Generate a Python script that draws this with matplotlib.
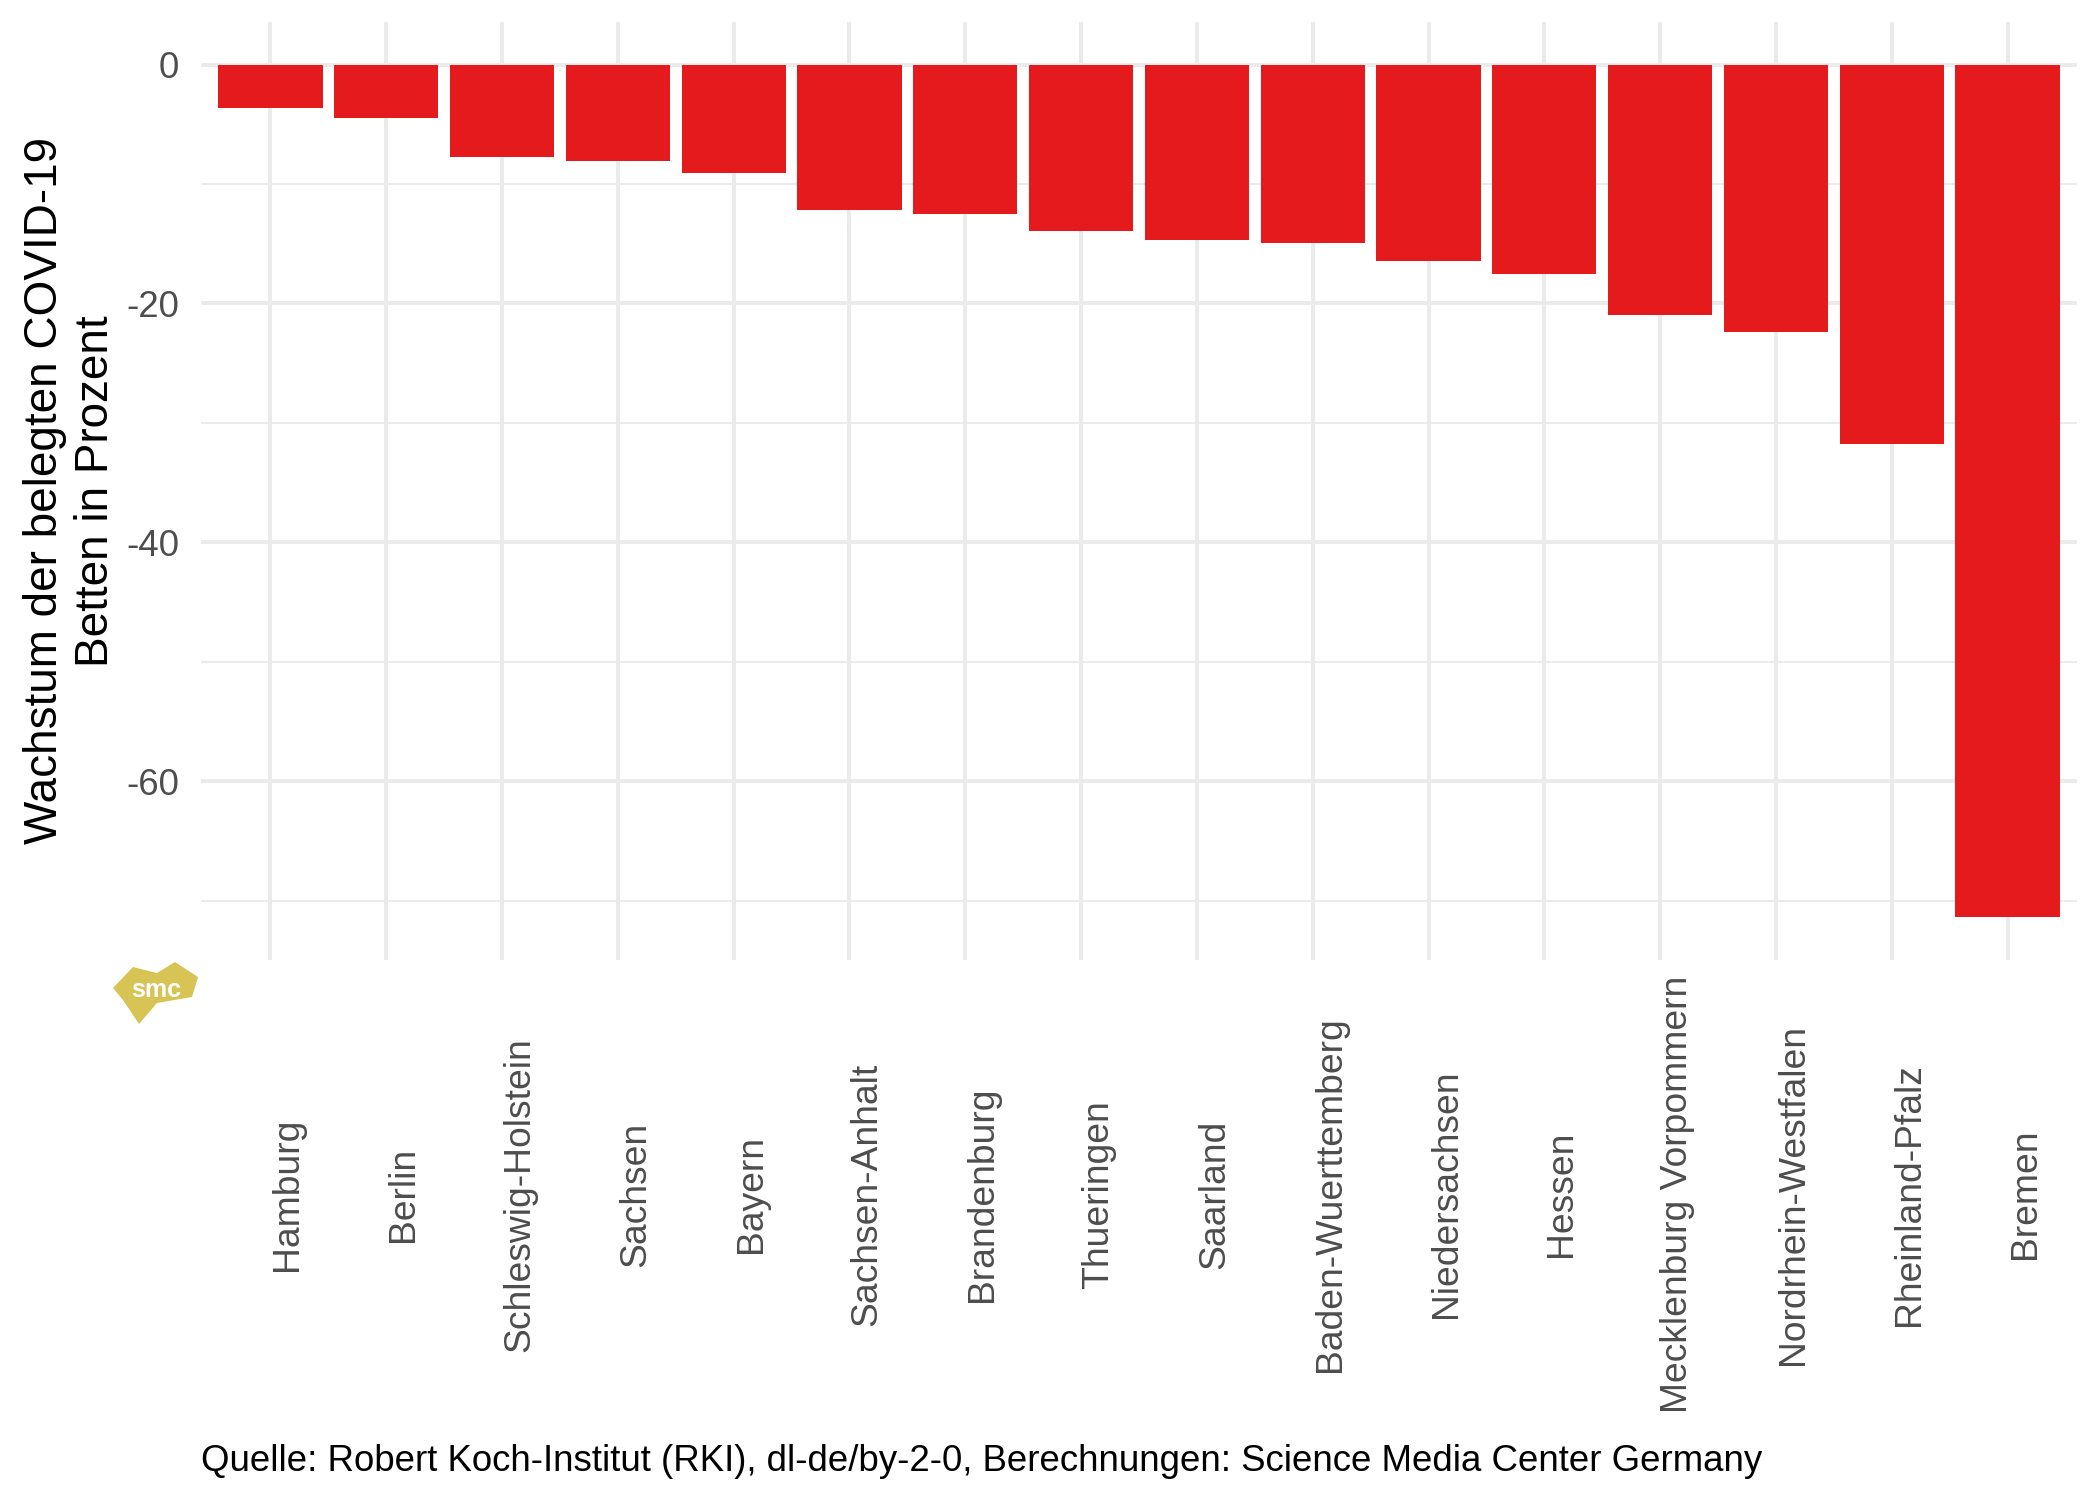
import numpy as np
import matplotlib.pyplot as plt
from matplotlib.patches import Polygon

plt.rcParams['font.family'] = ['Liberation Sans', 'DejaVu Sans']

# Daten: Wachstum der belegten COVID-19-Betten je Bundesland (Prozent)
laender = ["Hamburg", "Berlin", "Schleswig-Holstein", "Sachsen", "Bayern",
           "Sachsen-Anhalt", "Brandenburg", "Thueringen", "Saarland",
           "Baden-Wuerttemberg", "Niedersachsen", "Hessen",
           "Mecklenburg Vorpommern", "Nordrhein-Westfalen", "Rheinland-Pfalz",
           "Bremen"]
wachstum = [-3.67, -4.5, -7.7, -8.05, -9.05, -12.15, -12.5, -13.9, -14.72,
            -14.9, -16.48, -17.5, -21.0, -22.35, -31.8, -71.4]
y_ticks = [0, -20, -40, -60]
y_minor = [-10, -30, -50, -70]

W, H = 2100, 1499
fig = plt.figure(figsize=(W / 300, H / 300), dpi=300)
ax = fig.add_axes([201 / W, 1 - 960 / H, 1876 / W, 938 / H])

x = np.arange(len(laender))
ax.bar(x, wachstum, width=0.9, color="#E41A1C", zorder=3)

# Achsen wie ggplot theme_minimal
lo = min(wachstum)
span = 0 - lo
ax.set_ylim(lo - 0.05 * span, 0 + 0.05 * span)
ax.set_xlim(-0.6, len(laender) - 0.4)
ax.set_yticks(y_ticks)
ax.set_yticklabels([str(v) for v in y_ticks])
ax.set_yticks(y_minor, minor=True)
ax.set_xticks(x)
ax.set_xticklabels(laender, rotation=90, ha="left", va="center", fontsize=8.95)

ax.grid(axis="y", which="major", color="#EBEBEB", linewidth=0.95, zorder=0)
ax.grid(axis="y", which="minor", color="#EBEBEB", linewidth=0.48, zorder=0)
ax.grid(axis="x", which="major", color="#EBEBEB", linewidth=0.95, zorder=0)
ax.set_axisbelow(True)
for s in ax.spines.values():
    s.set_visible(False)

ax.tick_params(axis="both", which="both", length=0, labelsize=8.8,
               labelcolor="#4D4D4D")
ax.tick_params(axis="x", labelsize=8.95)
ax.tick_params(axis="y", pad=5.3)
ax.tick_params(axis="x", pad=56.2)

ax.set_ylabel("Wachstum der belegten COVID-19\nBetten in Prozent",
              fontsize=11, color="black", va="center", ha="center",
              linespacing=1.22)
ax.yaxis.set_label_coords(-0.0695, 0.5)

fig.text(201 / W, 1 - 1461.5 / H,
         "Quelle: Robert Koch-Institut (RKI), dl-de/by-2-0, "
         "Berechnungen: Science Media Center Germany",
         fontsize=8.8, color="black", ha="left", va="center")

# smc-Logo (grob nachgezeichnet)
logo = [(113, 988), (133, 967), (157, 973), (175, 962), (198, 977),
        (192, 997), (157, 1003), (139, 1024), (123, 1000)]
fig.patches.append(Polygon([(px / W, 1 - py / H) for px, py in logo],
                           closed=True, transform=fig.transFigure,
                           facecolor="#D8C355", edgecolor="none"))
fig.text(156 / W, 1 - 990 / H, "smc", fontsize=6, fontweight="bold",
         color="white", ha="center", va="center")

fig.savefig("out.png", dpi=300, facecolor="white")
